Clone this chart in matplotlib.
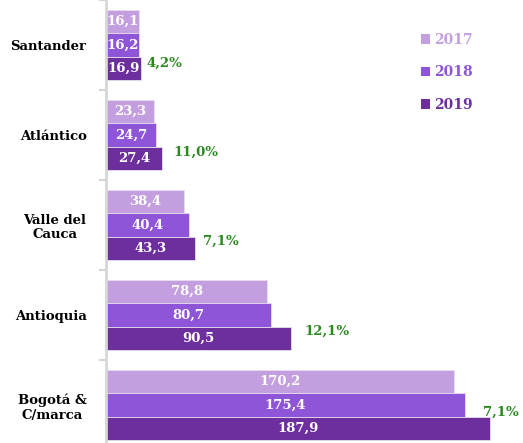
import numpy as np
import matplotlib
matplotlib.use("Agg")
import matplotlib.pyplot as plt
from matplotlib.patches import Patch

# data
regions = ["Santander", "Atlántico", "Valle del\nCauca", "Antioquia", "Bogotá &\nC/marca"]
years = ["2017", "2018", "2019"]
v2017 = [16.1, 23.3, 38.4, 78.8, 170.2]
v2018 = [16.2, 24.7, 40.4, 80.7, 175.4]
v2019 = [16.9, 27.4, 43.3, 90.5, 187.9]
growth = ["4,2%", "11,0%", "7,1%", "12,1%", "7,1%"]

colors = ["#C39FE0", "#8E55D8", "#6E2F9E"]
green = "#2A8A1E"
# label offsets (pixels) from end of the 2019 bar
goff = [(6, -5), (11, -6), (8, -7), (13, -7), (-7, -16)]

plt.rcParams["font.family"] = ["DejaVu Serif"]
plt.rcParams["font.weight"] = "bold"

W, H = 523, 443
fig = plt.figure(figsize=(W / 100, H / 100), dpi=100)
ax = fig.add_axes([106 / W, -7 / H, 1 - 106 / W, 1 + 7 / H])

y = np.arange(len(regions))
bh = 0.26
series = [v2017, v2018, v2019]
for k, vals in enumerate(series):
    pos = y + (k - 1) * bh
    bars = ax.barh(pos, vals, height=bh, color=colors[k], edgecolor="#E6DDF0", linewidth=0.6)
    for p, v in zip(pos, vals):
        ax.text(v / 2, p, ("%.1f" % v).replace(".", ","), ha="center", va="center",
                color="white", fontsize=9.5, fontweight="bold")

for i, (g, (dx, dy)) in enumerate(zip(growth, goff)):
    ax.annotate(g, (v2019[i], y[i] + bh), xytext=(dx * 0.72, -dy * 0.72),
                textcoords="offset points", ha="left", va="center",
                color=green, fontsize=9.5, fontweight="bold")

ax.set_xlim(0, (W - 106) / 2.044)
ax.set_ylim(len(regions) - 0.5, -0.5)
ax.set_yticks(y)
ax.set_yticklabels(regions, fontsize=9.5, fontweight="bold", multialignment="center")
ax.set_yticks(np.arange(len(regions)) - 0.5, minor=True)
ax.tick_params(axis="y", which="major", length=0, pad=14)
ax.tick_params(axis="y", which="minor", length=5, width=1.5, color="#D6D6D6")
ax.set_xticks([])
for s in ["top", "right", "bottom"]:
    ax.spines[s].set_visible(False)
ax.spines["left"].set_color("#D6D6D6")
ax.spines["left"].set_linewidth(2)

handles = [Patch(facecolor=c) for c in colors]
leg = fig.legend(handles, years, loc="upper left", bbox_to_anchor=(408 / W, 1 - 20 / H),
                 frameon=False, handlelength=0.7, handleheight=0.7, handletextpad=0.3,
                 labelspacing=1.35, labelcolor=colors,
                 prop={"weight": "bold", "size": 10})

fig.savefig("out.png", dpi=100)
